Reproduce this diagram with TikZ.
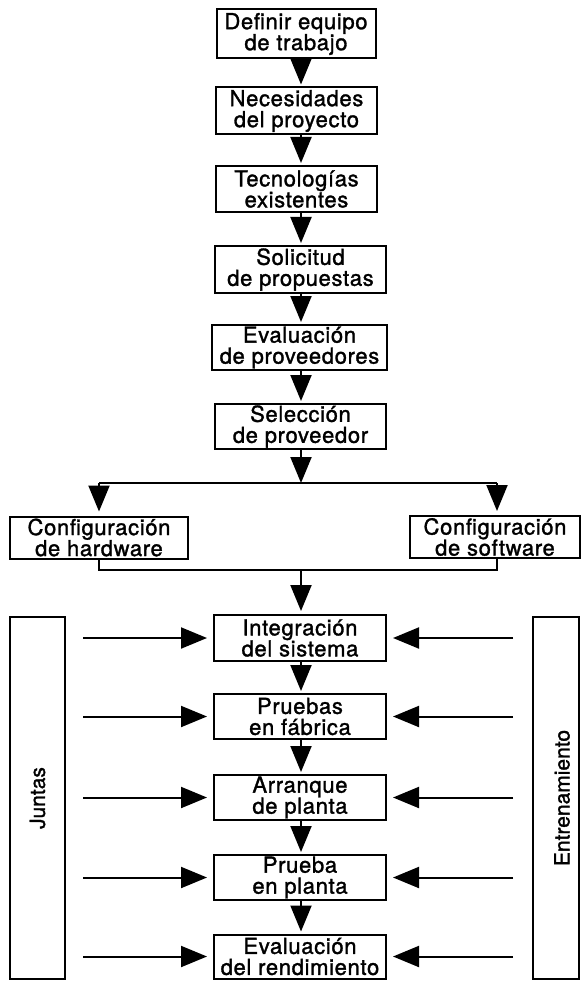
\documentclass[tikz,border=0pt]{standalone}
\usepackage{fontspec}
\setmainfont{TeX Gyre Heros}
\newfontfamily\boxfont[LetterSpace=3,FakeBold=1.4]{TeX Gyre Heros}
\newfontfamily\sidefont[FakeBold=1.4]{TeX Gyre Heros}
\usetikzlibrary{arrows.meta}
\begin{document}
\begin{tikzpicture}[x=1pt,y=-1pt,
  box/.style={draw, line width=2pt, inner xsep=1pt, inner ysep=0pt, align=center,
    font=\boxfont\fontsize{22}{21}\selectfont},
  sidebox/.style={draw, line width=2pt, inner sep=0pt},
  sidetext/.style={rotate=90, font=\sidefont\fontsize{21}{22}\selectfont, inner sep=0pt},
  arr/.style={line width=2pt, -{Triangle[length=26pt,width=21pt]}, shorten >=2pt},
  sidearr/.style={arr, shorten >=6pt},
  conn/.style={line width=2pt}]
\useasboundingbox (0,0) rectangle (581,981);

% main column
\node[box, minimum width=159pt, minimum height=49pt] (b1) at (296,34) {Definir equipo\\de trabajo};
\node[box, minimum width=161pt, minimum height=47pt] (b2) at (296.5,111) {Necesidades\\del proyecto};
\node[box, minimum width=161pt, minimum height=46pt] (b3) at (296.5,189) {Tecnologías\\existentes};
\node[box, minimum width=171pt, minimum height=47pt] (b4) at (300.5,269.5) {Solicitud\\de propuestas};
\node[box, minimum width=175pt, minimum height=45pt] (b5) at (299.5,347.5) {Evaluación\\de proveedores};
\node[box, minimum width=171pt, minimum height=45pt] (b6) at (300.5,426.5) {Selección\\de proveedor};

\node[box, minimum width=178pt, minimum height=42pt] (hw) at (99,537.5) {Configuración\\de hardware};
\node[box, minimum width=170pt, minimum height=42pt] (sw) at (495,537) {Configuración\\de software};

\node[box, minimum width=172pt, minimum height=46pt] (c1) at (300,638) {Integración\\del sistema};
\node[box, minimum width=172pt, minimum height=45pt] (c2) at (300,716.5) {Pruebas\\en fábrica};
\node[box, minimum width=172pt, minimum height=45pt] (c3) at (300,797.5) {Arranque\\de planta};
\node[box, minimum width=172pt, minimum height=45pt] (c4) at (300,877.5) {Prueba\\en planta};
\node[box, minimum width=172pt, minimum height=44pt] (c5) at (300,956.5) {Evaluación\\del rendimiento};

% side boxes
\node[sidebox, minimum width=55pt, minimum height=362pt] (jun) at (37.5,798) {};
\node[sidetext] (juntxt) at (jun.center) {Juntas};
\node[sidebox, minimum width=46pt, minimum height=362pt] (ent) at (556,798) {};
\node[sidetext] (enttxt) at ([xshift=6pt]ent.center) {Entrenamiento};

% coordinates
\coordinate (colx) at (301,0);
\coordinate (split) at (301,483);
\coordinate (hl) at (99,483);
\coordinate (hr) at (497,483);
\coordinate (jl) at (99,570);
\coordinate (jr) at (497,570);
\coordinate (lx) at (83,0);
\coordinate (rx) at (513,0);

% vertical arrows
\draw[arr] (b1.south -| colx) -- (b2.north -| colx);
\draw[arr] (b2.south -| colx) -- (b3.north -| colx);
\draw[arr] (b3.south -| colx) -- (b4.north -| colx);
\draw[arr] (b4.south -| colx) -- (b5.north -| colx);
\draw[arr] (b5.south -| colx) -- (b6.north -| colx);
\draw[arr, shorten >=0pt] (b6.south -| colx) -- (split);
\draw[conn] (hl) -- (hr);
\draw[arr, shorten >=4pt] (hl) -- (hw.north -| hl);
\draw[arr, shorten >=4pt] (hr) -- (sw.north -| hr);
\draw[conn] (hw.south -| jl) -- (jl) -- (jr) -- (sw.south -| jr);
\draw[arr, shorten >=3pt] (colx |- jl) -- (c1.north -| colx);
\draw[arr] (c1.south -| colx) -- (c2.north -| colx);
\draw[arr] (c2.south -| colx) -- (c3.north -| colx);
\draw[arr] (c3.south -| colx) -- (c4.north -| colx);
\draw[arr] (c4.south -| colx) -- (c5.north -| colx);

% side arrows
\foreach \n in {c1,c2,c3,c4,c5}{
  \draw[sidearr] (lx |- \n.west) -- (\n.west);
  \draw[sidearr] (rx |- \n.east) -- (\n.east);
}
\end{tikzpicture}
\end{document}
